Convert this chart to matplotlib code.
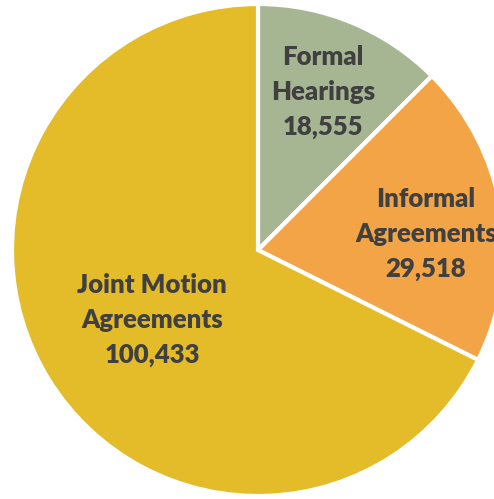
import matplotlib
matplotlib.use("Agg")
import matplotlib.pyplot as plt

categories = ["Formal\nHearings", "Informal\nAgreements", "Joint Motion\nAgreements"]
values = [18555, 29518, 100433]
colors = ["#A6B592", "#F2A446", "#E4BC2A"]

W, H = 494, 499
fig = plt.figure(figsize=(W / 100, H / 100), dpi=100)
ax = fig.add_axes([0, 0, 1, 1])
ax.set_xlim(0, W)
ax.set_ylim(0, H)
ax.set_aspect("equal")
ax.axis("off")

cx, cy, r = 258, H - 250, 246
ax.pie(values, colors=colors, startangle=90, counterclock=False,
       center=(cx, cy), radius=r, frame=True,
       wedgeprops=dict(edgecolor="white", linewidth=3))
ax.set_xlim(0, W)
ax.set_ylim(0, H)
ax.axis("off")

label_pos = [(323, 92), (426, 234), (152, 320)]
for cat, v, (x, y) in zip(categories, values, label_pos):
    ax.text(x, H - y, f"{cat}\n{v:,}", ha="center", va="center",
            fontsize=18.5, fontweight="heavy", family=["Lato", "DejaVu Sans"],
            color="#404040", linespacing=1.55)

fig.savefig("out.png", dpi=100)
